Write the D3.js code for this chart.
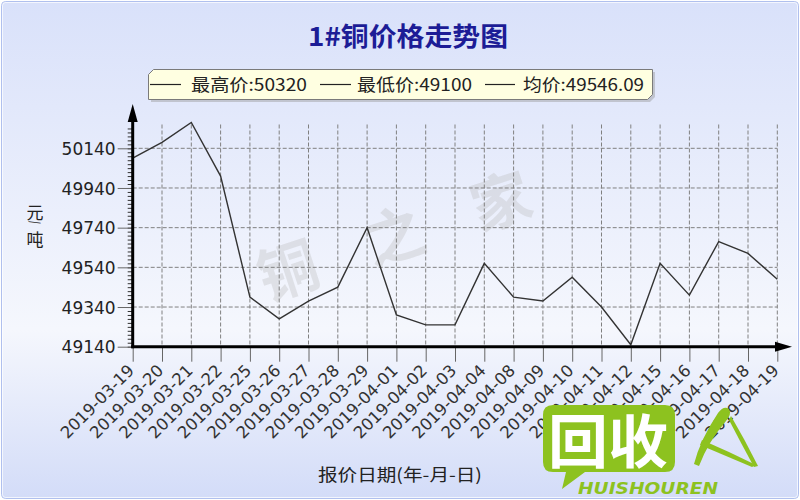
<!DOCTYPE html>
<html><head><meta charset="utf-8">
<script src="https://cdn.jsdelivr.net/npm/d3@7/dist/d3.min.js"></script>
<style>html,body{margin:0;padding:0;background:#fff;} svg{display:block;}</style>
</head><body><svg id="c" width="800" height="500"></svg>
<script>
const dates = ["2019-03-19","2019-03-20","2019-03-21","2019-03-22","2019-03-25","2019-03-26","2019-03-27","2019-03-28","2019-03-29","2019-04-01","2019-04-02","2019-04-03","2019-04-04","2019-04-08","2019-04-09","2019-04-10","2019-04-11","2019-04-12","2019-04-15","2019-04-16","2019-04-17","2019-04-18","2019-04-19"];
const prices = [50090,50170,50270,50000,49390,49280,49370,49440,49740,49300,49250,49250,49560,49390,49370,49490,49340,49150,49560,49400,49670,49610,49480];
const yTicks = [49140,49340,49540,49740,49940,50140];
const legendNames = ["最高价","最低价","均价"];
const legendValues = ["50320","49100","49546.09"];
const titleText = "1#铜价格走势图";
const xTitleText = "报价日期(年-月-日)";
const yTitleParts = ["元","/","吨"];
const watermark = ["铜","之","家"];

const svg = d3.select("#c");
const defs = svg.append("defs");
const grad = defs.append("linearGradient").attr("id","bg").attr("x1",0).attr("y1",0).attr("x2",0).attr("y2",1);
[[0,"#d9e1fa"],[0.66,"#f5f7fd"],[1,"#d3dcf8"]].forEach(s=>grad.append("stop").attr("offset",s[0]).attr("stop-color",s[1]));

// panel
svg.append("rect").attr("x",1.5).attr("y",1.5).attr("width",797).attr("height",497).attr("rx",4)
  .attr("fill","url(#bg)").attr("stroke","#b0c0ee").attr("stroke-width",1);
svg.append("rect").attr("x",2.5).attr("y",2.5).attr("width",795).attr("height",495).attr("rx",3)
  .attr("fill","none").attr("stroke","#ffffff").attr("stroke-opacity",0.7).attr("stroke-width",1);

const x = d3.scalePoint().domain(dates).range([132.7,777.3]);
const y = d3.scaleLinear().domain([49140,50140]).range([346.7,148.3]);
const x0 = x(dates[0]), yBase = y(yTicks[0]);

// watermark
const wm = svg.append("g").attr("transform","translate(395,238) rotate(-18)");
wm.selectAll("text").data(watermark).join("text")
  .attr("x",(d,i)=>(i-1)*112).attr("y",20).attr("text-anchor","middle")
  .attr("font-family","Noto Sans CJK SC").attr("font-weight","bold").attr("font-size",60)
  .attr("fill","#b8b8b8").attr("fill-opacity",0.33).text(d=>d);

// grid
svg.append("g").selectAll("line").data(yTicks.slice(1)).join("line")
  .attr("x1",x0).attr("x2",x(dates[dates.length-1])).attr("y1",d=>y(d)).attr("y2",d=>y(d))
  .attr("stroke","#808080").attr("stroke-width",1).attr("stroke-dasharray","4,2");
svg.append("g").selectAll("line").data(dates.slice(1)).join("line")
  .attr("x1",d=>x(d)).attr("x2",d=>x(d)).attr("y1",y(50260)).attr("y2",yBase)
  .attr("stroke","#808080").attr("stroke-width",1).attr("stroke-dasharray","4,2");

// minor y ticks
const minor = svg.append("g").attr("transform",`translate(${x0},0)`)
  .call(d3.axisLeft(y).tickValues(d3.range(49140,50241,20)).tickSize(5).tickFormat(""));
minor.select(".domain").remove();
minor.selectAll("line").attr("stroke","#333");

// major y axis
const ya = svg.append("g").attr("transform",`translate(${x0},0)`)
  .call(d3.axisLeft(y).tickValues(yTicks).tickFormat(d3.format("d")).tickSize(15).tickPadding(2));
ya.select(".domain").remove();
ya.selectAll("line").attr("stroke","#666");
ya.selectAll("text").attr("font-family","DejaVu Sans").attr("font-size",17).attr("fill","#222").attr("dy","0.36em");

// x axis ticks + labels
const xa = svg.append("g").attr("transform",`translate(0,${yBase})`)
  .call(d3.axisBottom(x).tickSize(15).tickPadding(0));
xa.select(".domain").remove();
xa.selectAll("line").attr("stroke","#666");
xa.selectAll("text").attr("font-family","DejaVu Sans").attr("font-size",16.5).attr("fill","#333")
  .attr("text-anchor","end").attr("dy",0).attr("y",0)
  .attr("transform","translate(2,25) rotate(-45)");

// line
svg.append("path").datum(prices)
  .attr("d",d3.line().x((d,i)=>x(dates[i])).y(d=>y(d)))
  .attr("fill","none").attr("stroke","#333").attr("stroke-width",1.4).attr("stroke-linejoin","miter");

// axes lines with arrows
svg.append("line").attr("x1",x0).attr("x2",x0).attr("y1",yBase+1.5).attr("y2",118).attr("stroke","#000").attr("stroke-width",3);
svg.append("path").attr("d",`M${x0},104 L${x0-5},122 L${x0+5},122 Z`).attr("fill","#000");
svg.append("line").attr("x1",x0-1.5).attr("x2",780).attr("y1",yBase).attr("y2",yBase).attr("stroke","#000").attr("stroke-width",3);
svg.append("path").attr("d",`M792,${yBase} L775,${yBase-5} L775,${yBase+5} Z`).attr("fill","#000");

// y title
const yt = svg.append("g").attr("font-family","Noto Sans CJK SC").attr("font-size",17).attr("fill","#222");
yt.append("text").attr("x",35).attr("y",219).attr("text-anchor","middle").text(yTitleParts[0]);
yt.append("text").attr("transform","translate(31,223) rotate(80)").attr("font-size",12).attr("text-anchor","middle").text(yTitleParts[1]);
yt.append("text").attr("x",35).attr("y",246).attr("text-anchor","middle").text(yTitleParts[2]);

// x title
svg.append("text").attr("x",318).attr("y",481).attr("font-family","Noto Sans CJK SC").attr("font-size",17)
  .attr("fill","#222").attr("textLength",164).attr("lengthAdjust","spacingAndGlyphs").text(xTitleText);

// title
svg.append("text").attr("x",308).attr("y",46).attr("font-family","Noto Sans CJK SC").attr("font-weight","bold")
  .attr("font-size",26).attr("fill","#1c1c96").attr("textLength",200).attr("lengthAdjust","spacingAndGlyphs").text(titleText);

// legend
svg.append("path").attr("d","M155,72 L655,72 L655,97 L650,102 L151,102 L151,77 Z").attr("fill","#9a9a9a").attr("opacity",0.45);
svg.append("path").attr("d","M153.5,69.5 L652.5,69.5 L652.5,94.5 L647.5,99.5 L148.5,99.5 L148.5,74.5 Z")
  .attr("fill","#ffffe1").attr("stroke","#7a7a7a").attr("stroke-width",1);
const legLines = [[150,181],[320,351],[485,515]];
const legText = [[191,116],[357,115],[523,121]];
legendNames.forEach((n,i)=>{
  svg.append("line").attr("x1",legLines[i][0]).attr("x2",legLines[i][1]).attr("y1",84.5).attr("y2",84.5).attr("stroke","#222").attr("stroke-width",1.2);
  svg.append("text").attr("x",legText[i][0]).attr("y",91).attr("font-family","Noto Sans CJK SC").attr("font-size",17)
    .attr("fill","#222").attr("textLength",legText[i][1]).attr("lengthAdjust","spacingAndGlyphs").text(n+":"+legendValues[i]);
});

// logo overlay
const green = "#8dc21f";
const logo = svg.append("g");
logo.append("path").attr("d","M553,405 L665,405 Q675,405 675,415 L675,462 Q675,472 665,472 L585,472 L562,489 L566,472 L553,472 Q543,472 543,462 L543,415 Q543,405 553,405 Z").attr("fill",green);
logo.append("text").attr("x",548).attr("y",463).attr("font-family","Noto Sans CJK SC").attr("font-weight","bold").attr("font-size",58)
  .attr("fill","#fff").attr("textLength",120).attr("lengthAdjust","spacingAndGlyphs").text("回收");
logo.append("text").attr("x",578).attr("y",494).attr("font-family","DejaVu Sans").attr("font-weight","bold").attr("font-style","italic")
  .attr("font-size",15).attr("fill",green).attr("textLength",140).attr("lengthAdjust","spacingAndGlyphs").text("HUISHOUREN");
logo.append("path").attr("d","M694,464 Q700,440 718,413 Q724,405 729,409 Q732,414 726,421 Q708,442 699,466 Z").attr("fill",green);
logo.append("path").attr("d","M731,416 Q745,440 758,466 L754,467 Q742,445 729,420 Z").attr("fill",green);
logo.append("path").attr("d","M702,440 Q730,452 756,465 L752,467 Q726,456 700,445 Z").attr("fill",green);
</script></body></html>
